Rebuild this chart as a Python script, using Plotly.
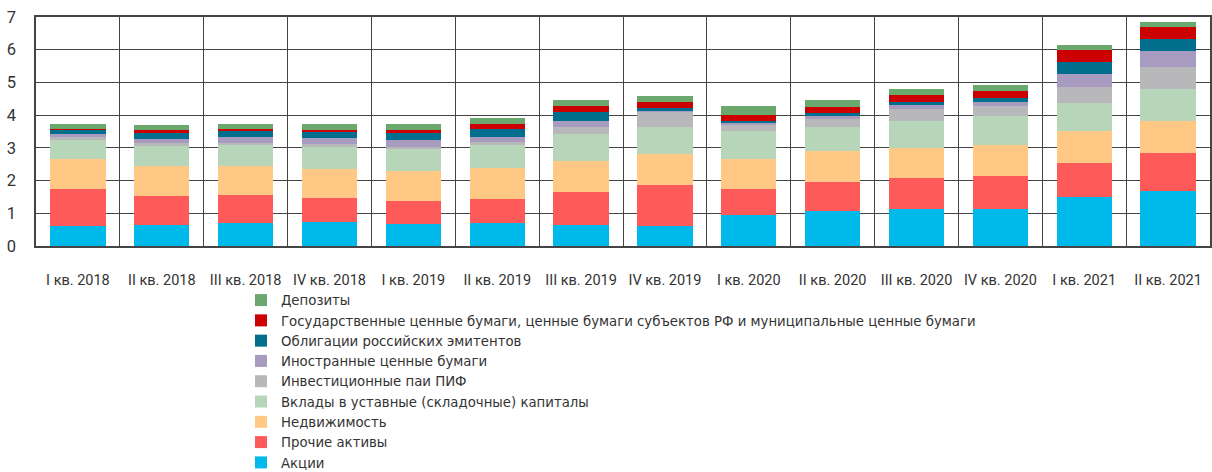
import plotly.graph_objects as go

categories = ["I кв. 2018", "II кв. 2018", "III кв. 2018", "IV кв. 2018",
              "I кв. 2019", "II кв. 2019", "III кв. 2019", "IV кв. 2019",
              "I кв. 2020", "II кв. 2020", "III кв. 2020", "IV кв. 2020",
              "I кв. 2021", "II кв. 2021"]

akcii =      [0.62, 0.64, 0.70, 0.73, 0.67, 0.71, 0.64, 0.62, 0.95, 1.08, 1.12, 1.12, 1.49, 1.68]
prochie =    [1.11, 0.90, 0.87, 0.74, 0.71, 0.73, 1.02, 1.24, 0.78, 0.87, 0.97, 1.02, 1.06, 1.16]
nedvizh =    [0.92, 0.91, 0.87, 0.88, 0.90, 0.94, 0.94, 0.94, 0.94, 0.94, 0.92, 0.94, 0.96, 0.99]
vklady =     [0.62, 0.61, 0.64, 0.68, 0.68, 0.70, 0.82, 0.84, 0.85, 0.76, 0.82, 0.88, 0.85, 0.98]
pif =        [0.05, 0.08, 0.08, 0.09, 0.08, 0.09, 0.22, 0.47, 0.20, 0.23, 0.36, 0.33, 0.49, 0.65]
inostr =     [0.09, 0.12, 0.18, 0.17, 0.20, 0.17, 0.17, 0.02, 0.03, 0.09, 0.12, 0.11, 0.42, 0.51]
obligacii =  [0.16, 0.22, 0.20, 0.19, 0.22, 0.25, 0.28, 0.09, 0.08, 0.11, 0.10, 0.11, 0.35, 0.36]
gos =        [0.02, 0.06, 0.05, 0.08, 0.10, 0.15, 0.18, 0.17, 0.16, 0.18, 0.20, 0.22, 0.36, 0.36]
depozity =   [0.15, 0.16, 0.13, 0.16, 0.16, 0.18, 0.19, 0.20, 0.30, 0.19, 0.19, 0.20, 0.17, 0.16]

series = [
    ("Акции", akcii, "#00B9EB"),
    ("Прочие активы", prochie, "#FF5A5A"),
    ("Недвижимость", nedvizh, "#FFC985"),
    ("Вклады в уставные (складочные) капиталы", vklady, "#B7D5B8"),
    ("Инвестиционные паи ПИФ", pif, "#B8B8BA"),
    ("Иностранные ценные бумаги", inostr, "#A89BC0"),
    ("Облигации российских эмитентов", obligacii, "#006E8C"),
    ("Государственные ценные бумаги, ценные бумаги субъектов РФ и муниципальные ценные бумаги", gos, "#CC0000"),
    ("Депозиты", depozity, "#6AA86E"),
]

fig = go.Figure()
for name, vals, color in series:
    fig.add_trace(go.Bar(x=categories, y=vals, name=name, marker_color=color,
                         marker_line_width=0, width=0.66))

fig.update_layout(
    barmode="stack",
    width=1212, height=472,
    margin=dict(l=36, r=2, t=17, b=226, autoexpand=False),
    plot_bgcolor="white", paper_bgcolor="white",
    font=dict(family="Roboto, sans-serif", size=15, color="#333333"),
    legend=dict(traceorder="reversed", orientation="v",
                x=0.1746, xanchor="left", y=-0.170, yanchor="top",
                font=dict(family="DejaVu Sans, sans-serif", size=13.3, color="#333333"),
                itemwidth=30, tracegroupgap=0, bgcolor="rgba(0,0,0,0)"),
)
fig.update_xaxes(type="category", tickson="boundaries", showgrid=True,
                 gridcolor="#444444", gridwidth=1.3, automargin=False,
                 showline=True, linecolor="#444444", linewidth=1.5, mirror=True,
                 ticks="", tickfont=dict(size=14.5, color="#333333"), ticklabelstandoff=20)
fig.update_yaxes(range=[0, 7], dtick=1, showgrid=True, gridcolor="#444444", gridwidth=1.3,
                 showline=True, linecolor="#444444", linewidth=1.5, mirror=True, automargin=False,
                 zeroline=False, ticks="", tickfont=dict(size=16.5, color="#333333"), ticklabelstandoff=15)

fig.write_html("out.html", config={"displayModeBar": False},
               post_script="document.body.style.margin='0';document.body.style.overflow='hidden';")
